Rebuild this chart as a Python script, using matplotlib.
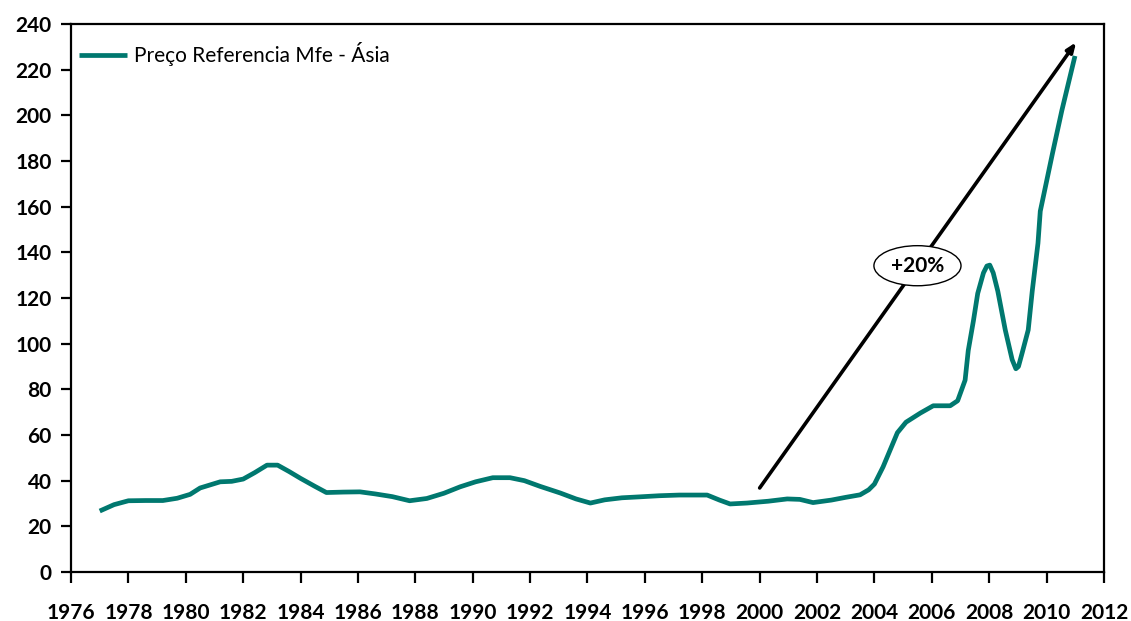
import matplotlib
matplotlib.use("Agg")
import matplotlib.pyplot as plt

plt.rcParams["font.family"] = ["Lato", "DejaVu Sans"]

# Price series (USD/t), read at irregular dates
years = [1977.0, 1977.5, 1978.0, 1978.6, 1979.2, 1979.7, 1980.15, 1980.5, 1981.2, 1981.6,
         1982.0, 1982.4, 1982.83, 1983.2, 1983.6, 1984.0, 1984.5, 1984.9, 1985.5, 1986.07,
         1986.6, 1987.2, 1987.8, 1988.4, 1989.0, 1989.56, 1990.1, 1990.7, 1991.3, 1991.8,
         1992.35, 1993.05, 1993.6, 1994.1, 1994.6, 1995.2, 1995.8, 1996.5, 1997.2, 1998.17,
         1998.6, 1998.97, 1999.56, 2000.3, 2000.96, 2001.4, 2001.86, 2002.5, 2003.0, 2003.5,
         2003.8, 2004.0, 2004.3, 2004.8, 2005.1, 2005.6, 2006.05, 2006.64, 2006.9, 2007.16,
         2007.27, 2007.45, 2007.6, 2007.8, 2007.92, 2008.02, 2008.14, 2008.3, 2008.56, 2008.8,
         2008.93, 2009.02, 2009.15, 2009.36, 2009.5, 2009.7, 2009.78, 2010.2, 2010.53, 2010.99]
price = [26.7, 29.5, 31.2, 31.3, 31.3, 32.3, 34.0, 36.8, 39.5, 39.7,
         40.7, 43.5, 46.8, 46.8, 44.0, 41.0, 37.5, 34.8, 35.0, 35.1,
         34.2, 33.0, 31.2, 32.2, 34.5, 37.3, 39.5, 41.3, 41.3, 40.0,
         37.5, 34.6, 32.0, 30.2, 31.6, 32.5, 32.9, 33.4, 33.7, 33.7,
         31.5, 29.8, 30.2, 31.0, 32.0, 31.8, 30.4, 31.5, 32.7, 33.8,
         36.0, 38.5, 46.0, 61.0, 65.6, 69.6, 72.8, 72.8, 75.0, 84.0,
         97.0, 110.0, 122.0, 131.0, 134.0, 134.4, 131.0, 123.0, 106.0, 93.0,
         89.0, 90.0, 96.0, 106.0, 123.0, 144.0, 158.0, 183.0, 202.0, 226.0]

trend_start = (2000.0, 36.8)
trend_end = (2011.03, 232.0)
trend_label = "+20%"
label_x = 2005.5

teal = "#00786F"

fig = plt.figure(figsize=(11.31, 6.21), dpi=100)
ax = fig.add_axes([0.0628, 0.0789, 0.9133, 0.8825])

ax.plot(years, price, color=teal, lw=3.4, solid_joinstyle="round",
        solid_capstyle="butt", label="Preço Referencia Mfe - Ásia")

# trend arrow with label sitting on it
ax.annotate("", xy=trend_end, xytext=trend_start,
            arrowprops=dict(arrowstyle="-|>,head_length=0.55,head_width=0.22",
                            color="black", lw=2.6, shrinkA=0, shrinkB=0))
label_y = trend_start[1] + (trend_end[1] - trend_start[1]) * (label_x - trend_start[0]) / (trend_end[0] - trend_start[0])
ax.text(label_x, label_y, trend_label, ha="center", va="center", fontsize=15,
        fontweight="bold",
        bbox=dict(boxstyle="ellipse,pad=0.2", fc="white", ec="black", lw=1.0))

ax.set_xlim(1976, 2012)
ax.set_ylim(0, 240)
ax.set_xticks(range(1976, 2013, 2))
ax.set_yticks(range(0, 241, 20))

for s in ax.spines.values():
    s.set_linewidth(1.6)
ax.tick_params(axis="x", direction="out", length=8, width=1.6, pad=14, labelsize=15)
ax.tick_params(axis="y", direction="out", length=7, width=1.6, pad=7, labelsize=15)
for lbl in ax.get_xticklabels() + ax.get_yticklabels():
    lbl.set_fontweight("bold")

leg = ax.legend(loc="upper left", frameon=False, fontsize=15, handlelength=2.3,
                handletextpad=0.3, bbox_to_anchor=(-0.006, 0.994), borderaxespad=0.3)

fig.savefig("out.png", dpi=100)
